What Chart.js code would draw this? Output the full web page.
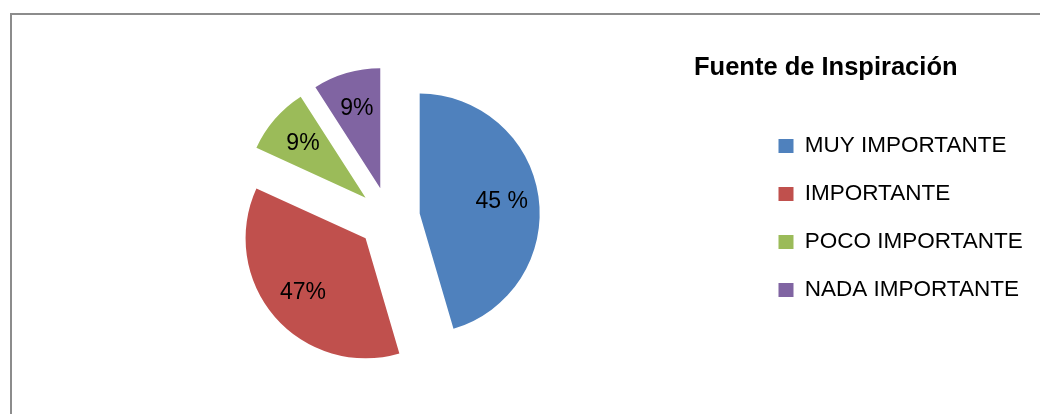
<!DOCTYPE html>
<html>
<head>
<meta charset="utf-8">
<script src="https://cdn.jsdelivr.net/npm/chart.js@4/dist/chart.umd.min.js"></script>
<style>
html, body { margin: 0; padding: 0; background: #fff; overflow: hidden; width: 1040px; height: 414px; }
#frame { position: absolute; left: 10px; top: 13px; width: 1100px; height: 500px;
         border-left: 2px solid #8c8c8c; border-top: 2px solid #8c8c8c; }
#c { position: absolute; left: 0; top: 0; }
</style>
</head>
<body>
<div id="frame"></div>
<canvas id="c" width="1040" height="414"></canvas>
<script>
// ---- data ----
const chartTitle = 'Fuente de Inspiración';
const categories = ['MUY IMPORTANTE', 'IMPORTANTE', 'POCO IMPORTANTE', 'NADA IMPORTANTE'];
const values = [50, 40, 10, 10];
const valueLabels = ['45 %', '47%', '9%', '9%'];
const colors = ['#4F81BD', '#C0504D', '#9BBB59', '#8064A2'];

// ---- style / layout ----
const FONT = '"Liberation Sans", Arial, sans-serif';
const LEGEND_SIZE = 22.5, BOX_W = 15, BOX_H = 14, LEGEND_PAD = 25.5;
const LEGEND_LEFT = 753;
const PIE_CX = 389;
const PIE_R = 120;
const EXPLODE = 31;            // radial pixel explosion of each slice
const mctx = document.createElement('canvas').getContext('2d');
mctx.font = LEGEND_SIZE + 'px ' + FONT;
const maxText = Math.max(...categories.map(t => mctx.measureText(t).width));
const legendWidth = LEGEND_PAD + BOX_W + LEGEND_SIZE / 2 + maxText + 10;
const padRight = Math.max(0, 1040 - LEGEND_LEFT - legendWidth);
const padLeft = 2 * PIE_CX - LEGEND_LEFT;

// draw each library arc element shifted outward along its bisector (exploded pie)
const explode = {
  id: 'explode',
  beforeDatasetDraw(chart, args) {
    const ctx = chart.ctx;
    args.meta.data.forEach(arc => {
      const mid = (arc.startAngle + arc.endAngle) / 2;
      ctx.save();
      ctx.translate(Math.cos(mid) * EXPLODE, Math.sin(mid) * EXPLODE);
      arc.draw(ctx);
      ctx.restore();
    });
    return false;
  }
};

const sliceLabels = {
  id: 'sliceLabels',
  afterDatasetsDraw(chart) {
    const ctx = chart.ctx;
    const meta = chart.getDatasetMeta(0);
    ctx.save();
    ctx.font = '23px ' + FONT;
    ctx.fillStyle = '#000';
    ctx.textAlign = 'center';
    ctx.textBaseline = 'middle';
    meta.data.forEach((arc, i) => {
      const p = arc.getProps(['x', 'y', 'startAngle', 'endAngle', 'outerRadius'], true);
      const mid = (p.startAngle + p.endAngle) / 2;
      const r = EXPLODE + p.outerRadius * 0.69;
      ctx.fillText(valueLabels[i], p.x + Math.cos(mid) * r, p.y + Math.sin(mid) * r);
    });
    ctx.restore();
  }
};

const sideTitle = {
  id: 'sideTitle',
  afterDraw(chart) {
    const ctx = chart.ctx;
    ctx.save();
    ctx.font = 'bold 25.5px ' + FONT;
    ctx.fillStyle = '#000';
    ctx.textAlign = 'left';
    ctx.textBaseline = 'alphabetic';
    ctx.fillText(chartTitle, 694, 75);
    ctx.restore();
  }
};

new Chart(document.getElementById('c'), {
  type: 'pie',
  data: {
    labels: categories,
    datasets: [{
      data: values,
      backgroundColor: colors,
      borderWidth: 0,
      radius: PIE_R
    }]
  },
  options: {
    responsive: false,
    devicePixelRatio: 1,
    animation: false,
    events: [],
    layout: { padding: { left: padLeft, right: padRight, top: 22, bottom: 0 } },
    plugins: {
      title: { display: false },
      tooltip: { enabled: false },
      legend: {
        display: true,
        position: 'right',
        align: 'center',
        labels: {
          color: '#000',
          boxWidth: BOX_W,
          boxHeight: BOX_H,
          padding: LEGEND_PAD,
          font: { family: FONT, size: LEGEND_SIZE }
        }
      }
    }
  },
  plugins: [explode, sliceLabels, sideTitle]
});
</script>
</body>
</html>
